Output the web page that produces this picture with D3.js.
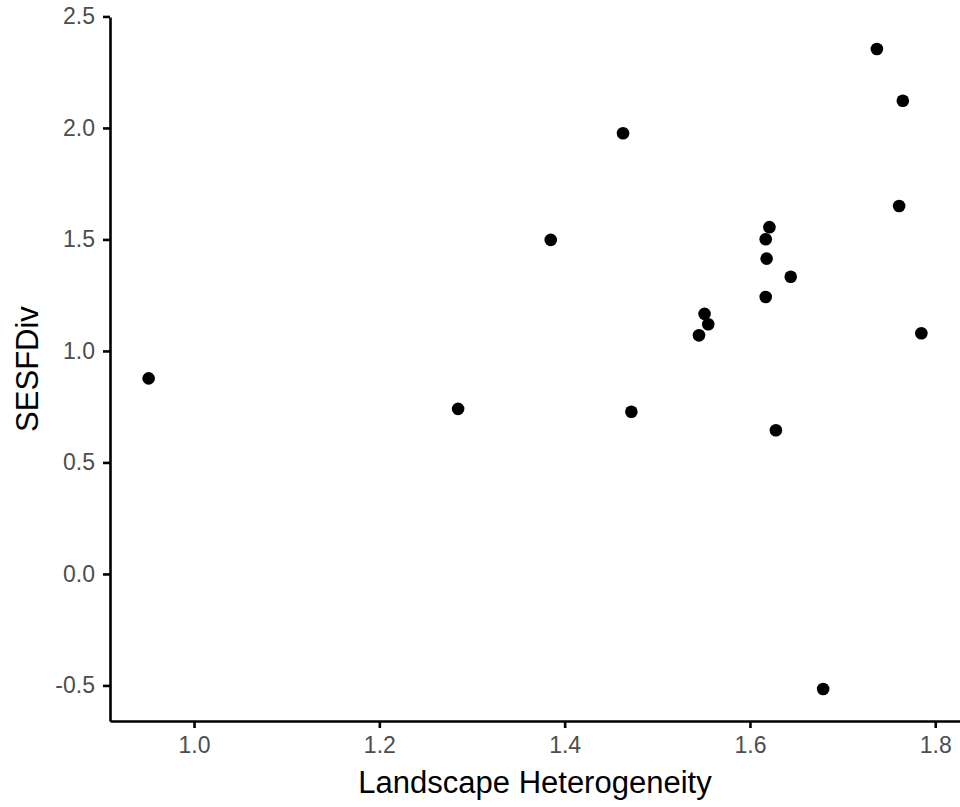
<!DOCTYPE html>
<html lang="en">
<head>
    <meta charset="UTF-8">
    <title>SESFDiv vs Landscape Heterogeneity</title>
    <script src="https://cdn.jsdelivr.net/npm/d3@7/dist/d3.min.js"></script>
    <style>
        body{
            margin: 0;
            background: white;
            font-family: "Liberation Sans", Arial, sans-serif;
        }
        .axis text{
            font-family: "Liberation Sans", Arial, sans-serif;
            font-size: 23px;
            fill: #4d4d4d;
        }
        .axis path, .axis line{
            stroke: black;
            stroke-width: 2.6;
        }
        .title{
            font-family: "Liberation Sans", Arial, sans-serif;
            font-size: 31px;
            fill: black;
        }
    </style>
</head>
<body>
<svg id="main" width="960" height="807"></svg>
<script>
    const width = 960, height = 807;
    const margin = {top: 17, right: 0, bottom: 86, left: 110};

    // data
    const heterogeneity = [0.951, 1.285, 1.385, 1.463, 1.472, 1.545, 1.551, 1.555, 1.617, 1.621,
                           1.618, 1.617, 1.628, 1.644, 1.679, 1.737, 1.765, 1.761, 1.785];
    const sesfdiv = [0.877, 0.740, 1.498, 1.976, 0.727, 1.070, 1.166, 1.120, 1.501, 1.555,
                     1.414, 1.242, 0.644, 1.333, -0.516, 2.354, 2.122, 1.650, 1.079];
    const xTicks = [1.0, 1.2, 1.4, 1.6, 1.8];
    const yTicks = [-0.5, 0.0, 0.5, 1.0, 1.5, 2.0, 2.5];

    const points = heterogeneity.map((x, i) => ({x: x, y: sesfdiv[i]}));

    // ggplot style 5% expansion
    function expand(ext){
        const pad = (ext[1] - ext[0]) * 0.05;
        return [ext[0] - pad, ext[1] + pad];
    }

    const xScale = d3.scaleLinear()
        .domain(expand(d3.extent(heterogeneity)))
        .range([margin.left, width - margin.right]);
    const yScale = d3.scaleLinear()
        .domain(expand(d3.extent(sesfdiv)))
        .range([height - margin.bottom, margin.top]);

    const svg = d3.select("svg#main");

    const fmt = d => d3.format(".1f")(d).replace("−", "-");

    const xAxis = d3.axisBottom(xScale)
        .tickValues(xTicks)
        .tickFormat(fmt)
        .tickSize(7)
        .tickSizeOuter(0)
        .tickPadding(9);
    const yAxis = d3.axisLeft(yScale)
        .tickValues(yTicks)
        .tickFormat(fmt)
        .tickSize(7)
        .tickSizeOuter(0)
        .tickPadding(8);

    svg.append("g")
        .attr("class", "axis xAxis")
        .attr("transform", `translate(0,${height - margin.bottom})`)
        .call(xAxis);

    svg.append("g")
        .attr("class", "axis yAxis")
        .attr("transform", `translate(${margin.left},0)`)
        .call(yAxis);

    svg.append("g")
        .selectAll("circle")
        .data(points)
        .join("circle")
        .attr("cx", d => xScale(d.x))
        .attr("cy", d => yScale(d.y))
        .attr("r", 6.3)
        .attr("fill", "black");

    svg.append("text")
        .attr("class", "title")
        .attr("x", (margin.left + width - margin.right) / 2)
        .attr("y", 793)
        .attr("text-anchor", "middle")
        .text("Landscape Heterogeneity");

    svg.append("text")
        .attr("class", "title")
        .attr("transform", `translate(38,${(margin.top + height - margin.bottom) / 2}) rotate(-90)`)
        .attr("text-anchor", "middle")
        .text("SESFDiv");
</script>
</body>
</html>
